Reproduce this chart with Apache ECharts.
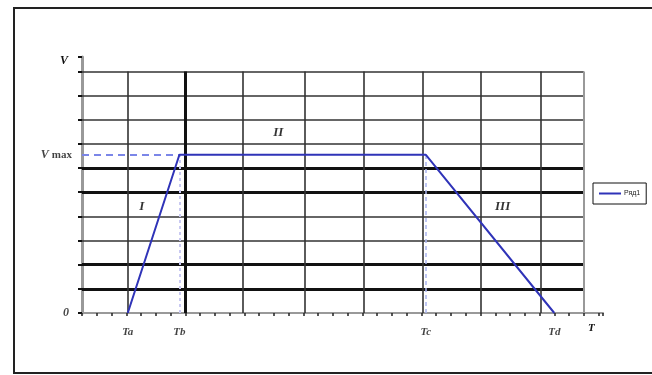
<!DOCTYPE html>
<html><head><meta charset="utf-8">
<script src="https://cdn.jsdelivr.net/npm/echarts@6/dist/echarts.min.js"></script>
<style>html,body{margin:0;padding:0;background:#fff}#c{width:652px;height:375px}</style>
</head><body><div id="c"></div>
<script>
// Key times (x units) and levels
const timeNames = ['Ta', 'Tb', 'Tc', 'Td'];
const timeValues = [3.1, 6.6, 23.3, 32.0];
const vmax = 6.55;
const seriesName = 'Ряд1';
const seriesX = [3.1, 6.6, 23.3, 32.0];
const seriesY = [0, 6.55, 6.55, 0];
const regionNames = ['I', 'II', 'III'];
const yLabelNames = ['0', 'Vmax'];
const yLabelValues = [0, 6.55];
const xGridValues = [3.1, 7, 10.9, 15.1, 19.1, 23.1, 27, 31.1];
const xGridThick = [7];
const yGridValues = [1, 2, 3, 4, 5, 6, 7, 8, 9, 10];
const yGridThick = [1, 2, 5, 6];
const plotRight = 34;
const plotTop = 10;

const chart = echarts.init(document.getElementById('c'));
const serif = 'Liberation Serif';

const gridLines = [];
yGridValues.forEach(v => {
  const thick = yGridThick.includes(v);
  gridLines.push([{coord: [0, v], lineStyle: {width: thick ? 3 : 1.6, color: thick ? '#111' : '#333', type: 'solid'}}, {coord: [plotRight, v]}]);
});
xGridValues.forEach(v => {
  const thick = xGridThick.includes(v);
  gridLines.push([{coord: [v, 0], lineStyle: {width: thick ? 3 : 1.6, color: thick ? '#111' : '#333', type: 'solid'}}, {coord: [v, plotTop]}]);
});
gridLines.push([{coord: [plotRight, 0], lineStyle: {width: 2, color: '#999', type: 'solid'}}, {coord: [plotRight, plotTop]}]);

const tb = timeValues[1], tc = timeValues[2];
const dashLines = [
  [{coord: [0, vmax], lineStyle: {color: '#7b86e8', width: 2, type: [7, 5]}}, {coord: [tb, vmax]}],
  [{coord: [tb, 0], lineStyle: {color: '#c9c9f2', width: 2, type: [3, 3]}}, {coord: [tb, vmax]}],
  [{coord: [tc, 0], lineStyle: {color: '#a9b4f0', width: 1.5, type: [4, 3]}}, {coord: [tc, vmax]}]
];

const ta = timeValues[0], td = timeValues[3];
const regionPos = [
  [(ta + tb) / 2 - 0.8, vmax * 0.67],
  [(tb + tc) / 2 - 1.65, vmax * 1.14],
  [(tc + td) / 2 + 0.85, vmax * 0.67]
];

chart.setOption({
  animation: false,
  graphic: [{type: 'rect', shape: {x: 14, y: 8, width: 700, height: 365}, style: {fill: 'none', stroke: '#222', lineWidth: 2}, silent: true}],
  grid: {left: 82, right: 49, top: 57, bottom: 62},
  legend: {
    left: 593, top: 183, data: [{name: seriesName, icon: 'rect'}],
    itemWidth: 22, itemHeight: 2, itemGap: 2,
    padding: [7, 6, 7, 6], borderColor: '#111', borderWidth: 1, borderRadius: 0,
    textStyle: {fontSize: 7, color: '#222', fontFamily: 'Liberation Sans', padding: [0, 0, 0, -2]}
  },
  xAxis: {
    type: 'value', min: 0, max: 35.3, interval: 1,
    name: 'T', nameLocation: 'end', nameGap: -15,
    nameTextStyle: {fontFamily: serif, fontStyle: 'italic', fontWeight: 'bold', fontSize: 11, color: '#111', verticalAlign: 'top', padding: [10, 0, 0, 0]},
    axisLine: {lineStyle: {color: '#999', width: 2}},
    axisTick: {show: true, length: 3, inside: false, lineStyle: {color: '#222', width: 1.5}},
    axisLabel: {show: false}, splitLine: {show: false}
  },
  yAxis: {
    type: 'value', min: 0, max: 10.6, interval: 1,
    name: 'V', nameLocation: 'end', nameGap: -4,
    nameTextStyle: {fontFamily: serif, fontStyle: 'italic', fontWeight: 'bold', fontSize: 12, color: '#111', align: 'right', verticalAlign: 'middle', padding: [0, 14, 0, 0]},
    axisLine: {show: true, lineStyle: {color: '#999', width: 3}},
    axisTick: {show: true, length: 4, lineStyle: {color: '#111', width: 2}},
    axisLabel: {show: false}, splitLine: {show: false}
  },
  series: [
    {
      type: 'line', name: '_grid', data: [], silent: true, legendHoverLink: false,
      markLine: {silent: true, symbol: ['none', 'none'], label: {show: false}, animation: false, data: gridLines}
    },
    {
      type: 'line', name: '_dash', data: [], silent: true,
      markLine: {silent: true, symbol: ['none', 'none'], label: {show: false}, animation: false, data: dashLines}
    },
    {
      type: 'line', name: seriesName, symbol: 'none', z: 5,
      data: seriesX.map((x, i) => [x, seriesY[i]]),
      lineStyle: {color: '#2f33b8', width: 2},
      itemStyle: {color: '#2f33b8'}
    },
    {
      type: 'scatter', name: '_xlabels', symbolSize: 0, silent: true,
      data: timeNames.map((n, i) => ({name: n, value: [timeValues[i], 0]})),
      label: {show: true, formatter: p => p.name, position: 'bottom', distance: 14, fontFamily: serif, fontStyle: 'italic', fontWeight: 'bold', fontSize: 11, color: '#111'}
    },
    {
      type: 'scatter', name: '_ylabels', symbolSize: 0, silent: true,
      data: yLabelNames.map((n, i) => ({name: n, value: [0, yLabelValues[i]]})),
      label: {
        show: true, position: 'left', distance: 10,
        formatter: p => p.name.length > 1 ? '{v|' + p.name[0] + '}{m|' + p.name.slice(1) + '}' : '{v|' + p.name + '}',
        rich: {
          v: {fontFamily: serif, fontStyle: 'italic', fontWeight: 'bold', fontSize: 12, color: '#111', padding: [0, 3, 0, 0]},
          m: {fontFamily: serif, fontWeight: 'bold', fontSize: 11, color: '#111', letterSpacing: 1}
        }
      }
    },
    {
      type: 'scatter', name: '_regions', symbolSize: 0, silent: true,
      data: regionNames.map((n, i) => ({name: n, value: regionPos[i]})),
      label: {show: true, formatter: p => p.name, position: 'inside', fontFamily: serif, fontStyle: 'italic', fontWeight: 'bold', fontSize: 13, color: '#000'}
    }
  ]
});
</script>
</body></html>
